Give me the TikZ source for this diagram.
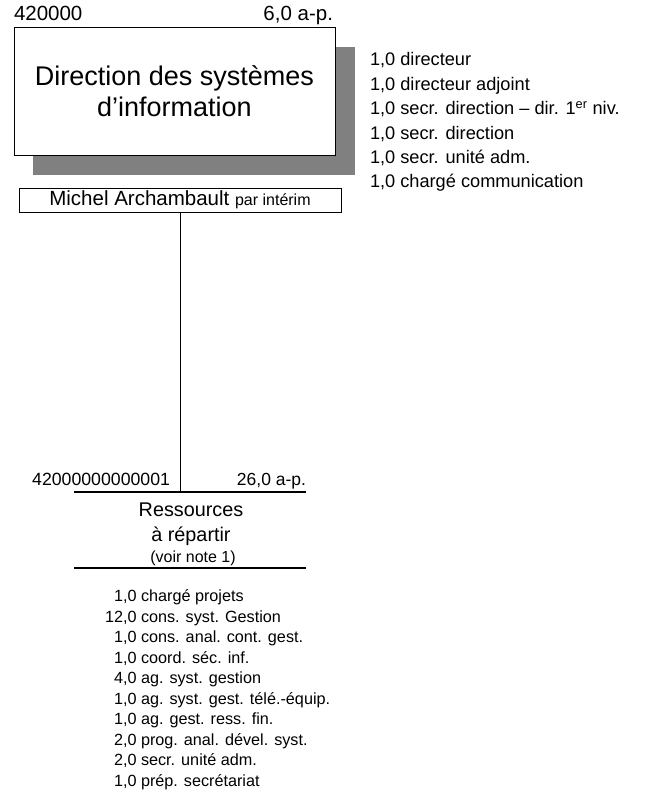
\documentclass[tikz,border=0pt]{standalone}
\usepackage{fontspec}
\setmainfont{Liberation Sans}
\definecolor{shadowgray}{RGB}{128,128,128}
\begin{document}
\begin{tikzpicture}[x=1pt,y=-1pt,
  every node/.style={inner sep=0pt, outer sep=0pt},
  frame/.style={draw=black, line width=1pt, fill=white},
  link/.style={draw=black, line width=1pt},
  rule/.style={draw=black, line width=1.2pt},
  hdr/.style={font=\fontsize{20.5}{22}\selectfont},
]
\useasboundingbox (0,0) rectangle (651,803);
% shadow
\fill[shadowgray] (33,47) rectangle (355,175);
% main box
\node[frame, minimum width=321pt, minimum height=128pt, align=center,
      font=\fontsize{27}{31}\selectfont] (dsi) at (174.5,91)
  {Direction des systèmes\\d’information};
\node[hdr, anchor=base west] (code1) at (14,20) {420000};
\node[hdr, anchor=base east] (ap1) at (333,20) {6,0 a-p.};
% right list
\node[anchor=north west, font=\fontsize{18.2}{24.4}\selectfont] (list1) at (370,48.9)
  {\begin{tabular}{@{}l@{}}
  1,0 directeur\\
  1,0 directeur adjoint\\
  1,0 secr. direction – dir. 1\textsuperscript{er} niv.\\
  1,0 secr. direction\\
  1,0 secr. unité adm.\\
  1,0 chargé communication
  \end{tabular}};
% manager
\node[frame, minimum width=322pt, minimum height=24pt,
      font=\fontsize{20.5}{22}\selectfont] (mgr) at (180,200)
  {Michel Archambault {\fontsize{16}{18}\selectfont par intérim}};
% bottom unit
\coordinate (bl) at (74,492);
\coordinate (br) at (306,492);
\coordinate (bl2) at (74,568);
\coordinate (br2) at (306,568);
\draw[link] (mgr.south) -- (mgr.south |- bl);
\draw[rule] (bl) -- (br);
\draw[rule] (bl2) -- (br2);
\node[anchor=base east, font=\fontsize{17.7}{20}\selectfont] (code2) at (170,485) {42000000000001};
\node[anchor=base east, font=\fontsize{17.5}{20}\selectfont] (ap2) at (306,485) {26,0 a-p.};
\node[align=center, font=\fontsize{19.8}{25}\selectfont] (res) at (191,524)
  {Ressources\\à répartir};
\node[font=\fontsize{16}{18}\selectfont] (note) at (193,558) {(voir note 1)};
% bottom list
\node[anchor=north west, font=\fontsize{16.2}{20.5}\selectfont] (list2) at (105,587.6)
  {\begin{tabular}{@{}r@{}l@{}}
  1&,0 chargé projets\\
  12&,0 cons. syst. Gestion\\
  1&,0 cons. anal. cont. gest.\\
  1&,0 coord. séc. inf.\\
  4&,0 ag. syst. gestion\\
  1&,0 ag. syst. gest. télé.-équip.\\
  1&,0 ag. gest. ress. fin.\\
  2&,0 prog. anal. dével. syst.\\
  2&,0 secr. unité adm.\\
  1&,0 prép. secrétariat
  \end{tabular}};
\end{tikzpicture}
\end{document}
